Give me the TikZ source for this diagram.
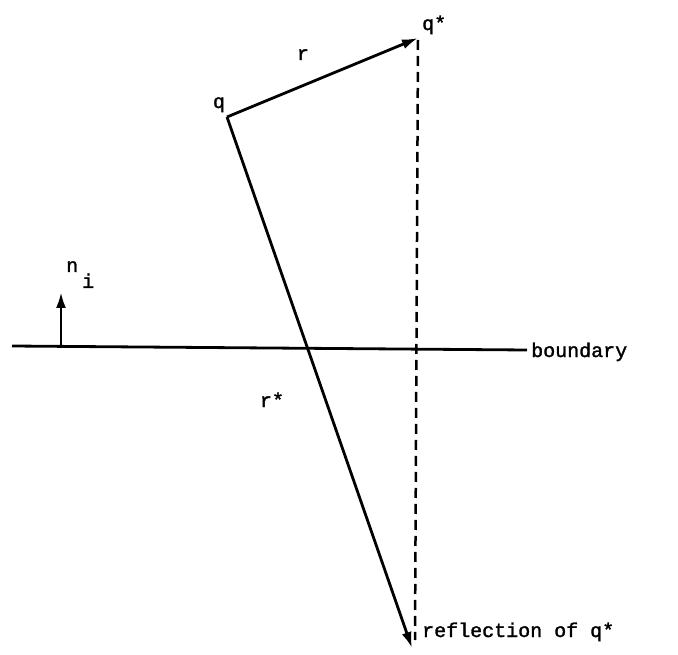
\documentclass[tikz,border=0pt]{standalone}
\usepackage{fontspec}
\setmonofont[FakeBold=1.5]{Liberation Mono}
\usetikzlibrary{arrows.meta}
\begin{document}
\begin{tikzpicture}[x=1pt,y=-1pt,
  lbl/.style={inner sep=0pt,font=\ttfamily\fontsize{20}{20}\selectfont},
  ln/.style={line width=2.8pt},
  tip/.style={-{Latex[length=16pt,width=10pt]}},
  dsh/.style={line width=2.5pt,dash pattern=on 10pt off 6pt}]
\useasboundingbox (0,0) rectangle (678,655);
\coordinate (q) at (227,117);
\coordinate (qs) at (418,38);
\coordinate (rq) at (412,648);
\coordinate (dtop) at (418,40);
\coordinate (dbot) at (415,640);
\coordinate (bl) at (12,346);
\coordinate (br) at (527,350);
\coordinate (nb) at (61,346);
\coordinate (nt) at (61,292);
% lines
\draw[ln] (bl) -- (br);
\draw[dsh] (dtop) -- (dbot);
\draw[ln,tip] (q) -- (qs);
\draw[ln,tip] (q) -- (rq);
\draw[ln,tip] (nb) -- (nt);
% labels
\node[lbl,anchor=base] (lq) at (219,108) {q};
\node[lbl,anchor=base west] (lqs) at (422,30) {q*};
\node[lbl,anchor=base] (lr) at (303,60) {r};
\node[lbl,anchor=base] (lrs) at (272,407) {r*};
\node[lbl,anchor=base west] (lb) at (531,357) {boundary};
\node[lbl,anchor=base west] (lref) at (422,637) {reflection of q*};
\node[lbl,anchor=base west] (ln) at (66,272) {n};
\node[lbl,anchor=base west] (li) at (82,288) {i};
\end{tikzpicture}
\end{document}
